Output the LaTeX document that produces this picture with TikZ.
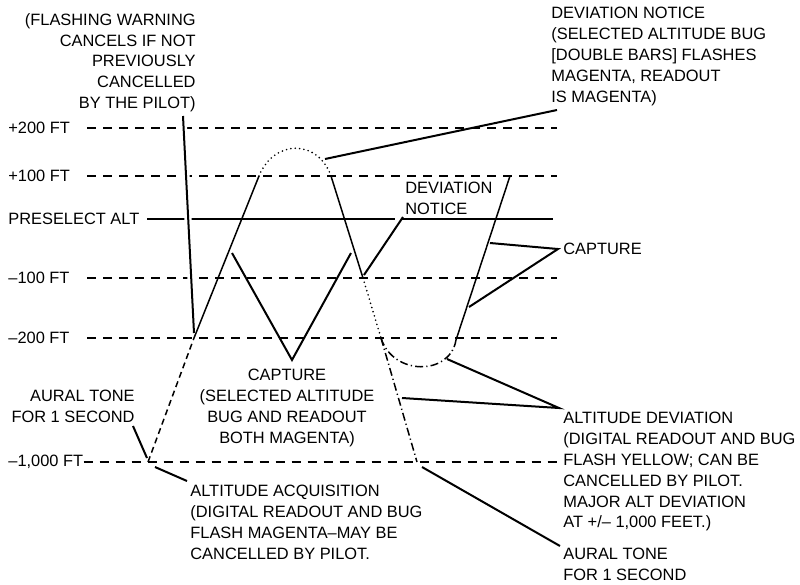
\documentclass[tikz,border=0pt]{standalone}
\usepackage{fontspec}
\setmainfont{Liberation Sans}
\begin{document}
\begin{tikzpicture}[x=0.5pt,y=-0.5pt,
    every node/.style={font=\fontsize{8.2}{10.4}\selectfont, inner sep=0pt},
    altline/.style={line width=0.85pt, dash pattern=on 4.7pt off 3.3pt},
    selline/.style={line width=0.85pt},
    flight/.style={line width=0.75pt},
    climbdash/.style={flight, dash pattern=on 3pt off 2pt},
    overdots/.style={flight, line width=0.9pt, line cap=round, dash pattern=on 0pt off 2.2pt},
    devdashdot/.style={flight, dash pattern=on 4pt off 1.6pt on 0.6pt off 1.6pt},
    leader/.style={line width=1pt},
    halo/.style={white, line width=3.6pt}]
  \useasboundingbox (0,0) rectangle (800,585);

  % altitude lines
  \node[anchor=west] (l200) at (8,128) {+200 FT};
  \node[anchor=west] (l100) at (8,176) {+100 FT};
  \node[anchor=west] (lsel) at (8,219) {PRESELECT ALT};
  \node[anchor=west] (lm100) at (8,278) {–100 FT};
  \node[anchor=west] (lm200) at (8,338) {–200 FT};
  \node[anchor=west] (lm1000) at (8,462) {–1,000 FT};

  \coordinate (s200) at (87,128);   \coordinate (e200) at (557,128);
  \coordinate (s100) at (87,176);   \coordinate (e100) at (557,176);
  \coordinate (ssel) at (147,219);  \coordinate (esel) at (553,219);
  \coordinate (gapA) at (395,219);  \coordinate (gapB) at (402,219);
  \coordinate (sm100) at (87,278);  \coordinate (em100) at (557,278);
  \coordinate (sm200) at (87,338);  \coordinate (em200) at (557,338);
  \coordinate (em1000) at (557,462);

  \draw[altline] (s200) -- (e200);
  \draw[altline] (s100) -- (e100);
  \draw[selline] (ssel) -- (gapA);
  \draw[selline] (gapB) -- (esel);
  \draw[altline] (sm100) -- (em100);
  \draw[altline] (sm200) -- (em200);
  \draw[altline] (lm1000.east) -- (em1000);

  % flight path
  \coordinate (p0) at (148,462);
  \coordinate (p1) at (194,338);
  \coordinate (p2) at (259,176);
  \coordinate (p3) at (331,176);
  \coordinate (p4) at (363,278);
  \coordinate (p5) at (381,338);
  \coordinate (p6) at (417,462);
  \coordinate (q1) at (456,340);
  \coordinate (q2) at (510,176);

  \draw[climbdash] (p0) -- (p1);
  \draw[flight] (p1) -- (p2);
  \draw[overdots] (p2) .. controls (274,139) and (318,139) .. (p3);
  \draw[flight] (p3) -- (p4);
  \draw[overdots] (p4) -- (p5);
  \draw[devdashdot] (p5) -- (p6);
  \draw[devdashdot] (p5) .. controls (393,376) and (450,376) .. (q1);
  \draw[flight] (q1) -- (q2);

  % labels
  \node[anchor=north east, align=right] (warn) at (196,13) {(FLASHING WARNING\\CANCELS IF NOT\\PREVIOUSLY\\CANCELLED\\BY THE PILOT)};
  \node[anchor=north west, align=left] (devtop) at (551,7) {DEVIATION NOTICE\\(SELECTED ALTITUDE BUG\\{[}DOUBLE BARS{]} FLASHES\\MAGENTA, READOUT\\IS MAGENTA)};
  \node[anchor=north west, align=left] (devmid) at (405,182) {DEVIATION\\NOTICE};
  \node[anchor=north west] (capR) at (563,243) {CAPTURE};
  \node[anchor=north, align=center] (capM) at (287,369) {CAPTURE\\(SELECTED ALTITUDE\\BUG AND READOUT\\BOTH MAGENTA)};
  \node[anchor=north east, align=right] (auralL) at (135,390) {AURAL TONE\\FOR 1 SECOND};
  \node[anchor=north west, align=left] (acq) at (190,485) {ALTITUDE ACQUISITION\\(DIGITAL READOUT AND BUG\\FLASH MAGENTA–MAY BE\\CANCELLED BY PILOT.};
  \node[anchor=north west, align=left] (altdev) at (563,412) {ALTITUDE DEVIATION\\(DIGITAL READOUT AND BUG\\FLASH YELLOW; CAN BE\\CANCELLED BY PILOT.\\MAJOR ALT DEVIATION\\AT +/– 1,000 FEET.)};
  \node[anchor=north west, align=left] (auralR) at (563,548) {AURAL TONE\\FOR 1 SECOND};

  % leaders
  \coordinate (warnA) at (183,116);  \coordinate (warnB) at (194,333);
  \coordinate (warnH) at (192,300);
  \coordinate (devtopA) at (557,110); \coordinate (devtopB) at (325,159);
  \coordinate (devmidA) at (403,217); \coordinate (devmidB) at (364,275);
  \coordinate (capRA) at (558,249);  \coordinate (capRB) at (490,243); \coordinate (capRC) at (469,307);
  \coordinate (capMA) at (292,360);  \coordinate (capMB) at (232,253); \coordinate (capMC) at (351,253);
  \coordinate (auralLA) at (133,426); \coordinate (auralLB) at (147,458);
  \coordinate (acqA) at (187,481);   \coordinate (acqB) at (155,467);
  \coordinate (altdevA) at (559,408); \coordinate (altdevB) at (447,359); \coordinate (altdevC) at (402,398);
  \coordinate (auralRA) at (560,546); \coordinate (auralRB) at (422,467);

  \draw[halo] (warnA) -- (warnH);
  \draw[leader] (warnA) -- (warnB);
  \draw[leader] (devtopA) -- (devtopB);
  \draw[leader] (devmidA) -- (devmidB);
  \draw[leader] (capRB) -- (capRA) -- (capRC);
  \draw[leader] (capMB) -- (capMA) -- (capMC);
  \draw[leader] (auralLA) -- (auralLB);
  \draw[leader] (acqA) -- (acqB);
  \draw[leader] (altdevB) -- (altdevA) -- (altdevC);
  \draw[leader] (auralRA) -- (auralRB);
\end{tikzpicture}
\end{document}
